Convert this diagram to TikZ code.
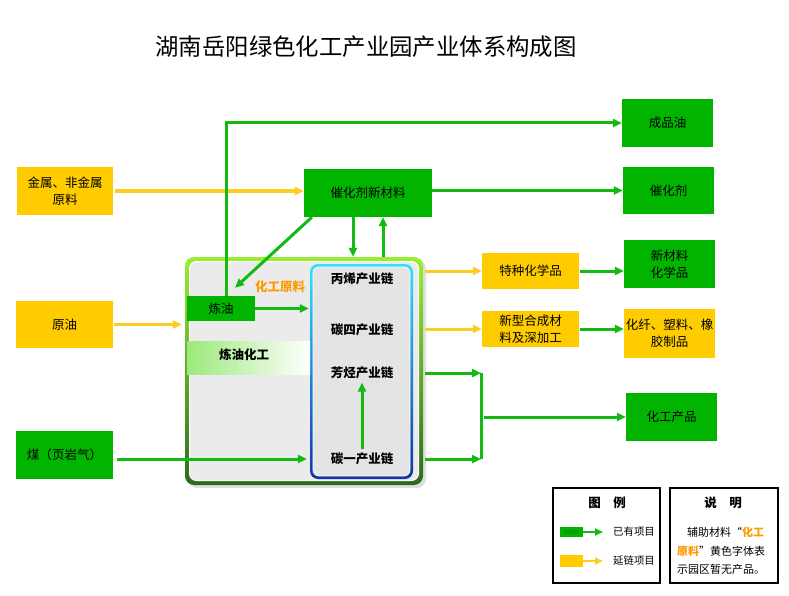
\documentclass[tikz,border=0pt]{standalone}
\usepackage{fontspec}
\setmainfont{Noto Sans CJK SC}
\usetikzlibrary{positioning,arrows.meta,calc,shadows}
\definecolor{boxgreen}{HTML}{00B400}
\definecolor{arrgreen}{HTML}{11BB11}
\definecolor{keygreen}{HTML}{009900}
\definecolor{boxyellow}{HTML}{FFCC00}
\definecolor{arryellow}{HTML}{FFCC22}
\definecolor{rawtext}{HTML}{FF9900}
\definecolor{parktop}{HTML}{99EE33}
\definecolor{parkbot}{HTML}{2B6B1B}
\definecolor{parkfill}{HTML}{EBEBEB}
\definecolor{chaintop}{HTML}{33E0FF}
\definecolor{chainbot}{HTML}{1133AA}
\definecolor{chainfill}{HTML}{E4E4E4}
\definecolor{bandleft}{HTML}{9BEA7A}

\begin{document}
\begin{tikzpicture}[x=1pt, y=-1pt,
  box/.style={minimum width=96pt, minimum height=48pt, inner sep=1pt, align=center, font=\fontsize{12.5}{17}\selectfont},
  gbox/.style={box, fill=boxgreen},
  ybox/.style={box, fill=boxyellow},
  garr/.style={draw=arrgreen, line width=3pt, -{Triangle[length=9pt,width=8pt]}},
  yarr/.style={draw=arryellow, line width=3pt, -{Triangle[length=9pt,width=8pt]}},
  chain/.style={font=\fontsize{12.5}{15}\selectfont\bfseries},
  small/.style={font=\fontsize{10.4}{13}\selectfont, inner sep=0pt},
  frame/.style={draw=black, line width=1.8pt, minimum width=107pt, minimum height=95pt}]
\useasboundingbox (0,0) rectangle (789,596);
\node[font=\fontsize{23.4}{27}\selectfont] (title) at (366,47) {湖南岳阳绿色化工产业园产业体系构成图};

\node[top color=parktop, bottom color=parkbot, rounded corners=9pt, minimum width=238pt, minimum height=228pt,
  drop shadow={opacity=0.25, shadow xshift=3pt, shadow yshift=-3pt}] (park) at (304,371) {};
\node[fill=parkfill, draw=white, line width=1pt, rounded corners=7pt, minimum width=229pt, minimum height=219pt] (parkin) at (304,371) {};
\node[top color=chaintop, bottom color=chainbot, rounded corners=8pt, minimum width=103pt, minimum height=215pt] (chains) at (361.5,371.5) {};
\node[fill=chainfill, draw=white, line width=0.8pt, rounded corners=6pt, minimum width=97pt, minimum height=209pt] (chainsin) at (361.5,371.5) {};
\node[left color=bandleft, right color=white, minimum width=123pt, minimum height=33pt, inner sep=0pt] (band) at (248.5,357.5) {};
\node[chain] (bandlbl) at (244,355) {炼油化工};

\node[chain] (chainC3) at (362,279) {丙烯产业链};
\node[chain] (chainC4) at (362,330) {碳四产业链};
\node[chain] (chainAro) at (362,373) {芳烃产业链};
\node[chain] (chainC1) at (362,459) {碳一产业链};
\node[gbox, minimum width=68pt, minimum height=25pt] (refine) at (221,308.5) {炼油};
\node[chain, text=rawtext] (rawlbl) at (280,287) {化工原料};

\node[ybox] (metal) at (65,191) {金属、非金属\\原料};
\node[gbox, minimum width=128pt] (catmat) at (368,193) {催化剂新材料};
\node[ybox, minimum width=97pt, minimum height=47pt] (crude) at (64.5,324.5) {原油};
\node[gbox, minimum width=97pt] (coal) at (64.5,455) {煤（页岩气）};
\node[gbox, minimum width=91pt] (prodoil) at (667.5,123) {成品油};
\node[gbox, minimum width=91pt, minimum height=47pt] (catalyst) at (668.5,190.5) {催化剂};
\node[gbox, minimum width=91pt] (newmat) at (669.5,264) {新材料\\化学品};
\node[ybox, minimum width=97pt, minimum height=36pt] (special) at (530.5,271) {特种化学品};
\node[ybox, minimum width=97pt, minimum height=36pt] (synth) at (530.5,329) {新型合成材\\料及深加工};
\node[ybox, minimum width=91pt, minimum height=49pt] (fiber) at (669.5,333.5) {化纤、塑料、橡\\胶制品};
\node[gbox, minimum width=91pt] (chemprod) at (671.5,417) {化工产品};

\draw[yarr, shorten <=2pt] (metal) -- (metal -| catmat.west);
\draw[garr] (catalyst.west -| catmat.east) -- (catalyst.west);
\draw[garr] ([xshift=5pt]refine.north) |- (prodoil.west);
\draw[garr] ([xshift=8pt]catmat.south west) -- ([xshift=14pt,yshift=8pt]refine.north);
\draw[garr] ([xshift=-15pt]catmat.south) -- ([xshift=-15pt]catmat.south |- park.north);
\draw[garr] ([xshift=15pt]catmat.south |- park.north) -- ([xshift=15pt]catmat.south);
\draw[yarr, shorten <=1pt, shorten >=3pt] (crude) -- (crude -| park.west);
\draw[garr, shorten <=4pt, shorten >=3pt] (coal.east |- chainC1) -- (chainC1 -| chains.west);
\draw[garr, shorten >=1pt] (refine) -- (refine -| chains.west);
\draw[garr] (chainC1.north) -- (chainAro.south);
\draw[yarr, shorten <=2pt] (special.west -| park.east) -- (special.west);
\draw[yarr, shorten <=2pt] (synth.west -| park.east) -- (synth.west);
\draw[garr, shorten <=1pt] (special) -- (special -| newmat.west);
\draw[garr, shorten <=1pt] (synth) -- (synth -| fiber.west);

\coordinate (join) at (481,417);
\draw[draw=arrgreen, line width=3pt] (join |- chainAro) -- (join |- chainC1);
\draw[garr, shorten <=2pt] (chainAro -| park.east) -- (chainAro -| join);
\draw[garr, shorten <=2pt] (chainC1 -| park.east) -- (chainC1 -| join);
\draw[garr] ([xshift=3pt]join) -- (join -| chemprod.west);

\node[frame] (legbox) at (606.5,535.5) {};
\node[frame, minimum width=108pt] (notebox) at (724,535.5) {};
\node[chain] (legtitle) at (607,503) {图\quad 例};
\node[chain] (notetitle) at (723,503) {说\quad 明};
\node[fill=boxgreen, minimum width=23pt, minimum height=10pt, inner sep=0pt] (keyG) at (571.5,532) {};
\node[fill=keygreen, minimum width=15pt, minimum height=4pt, inner sep=0pt] (keyGin) at (571.5,532) {};
\node[fill=boxyellow, minimum width=23pt, minimum height=12pt, inner sep=0pt] (keyY) at (571.5,561) {};
\node[small, anchor=west] (keyGtxt) at (613,532) {已有项目};
\node[small, anchor=west] (keyYtxt) at (613,561) {延链项目};
\draw[garr, line width=2.5pt, -{Triangle[length=8pt,width=7pt]}, shorten >=10pt] (keyG) -- (keyGtxt.west);
\draw[yarr, line width=2.5pt, -{Triangle[length=8pt,width=7pt]}, shorten >=10pt] (keyY) -- (keyYtxt.west);
\node[small, font=\fontsize{11}{13}\selectfont, anchor=west] (note1) at (687,532) {辅助材料“\textcolor{rawtext}{\bfseries 化工}};
\node[small, font=\fontsize{11}{13}\selectfont, anchor=west] (note2) at (677,551) {\textcolor{rawtext}{\bfseries 原料}”黄色字体表};
\node[small, font=\fontsize{11}{13}\selectfont, anchor=west] (note3) at (677,569) {示园区暂无产品。};
\end{tikzpicture}
\end{document}
